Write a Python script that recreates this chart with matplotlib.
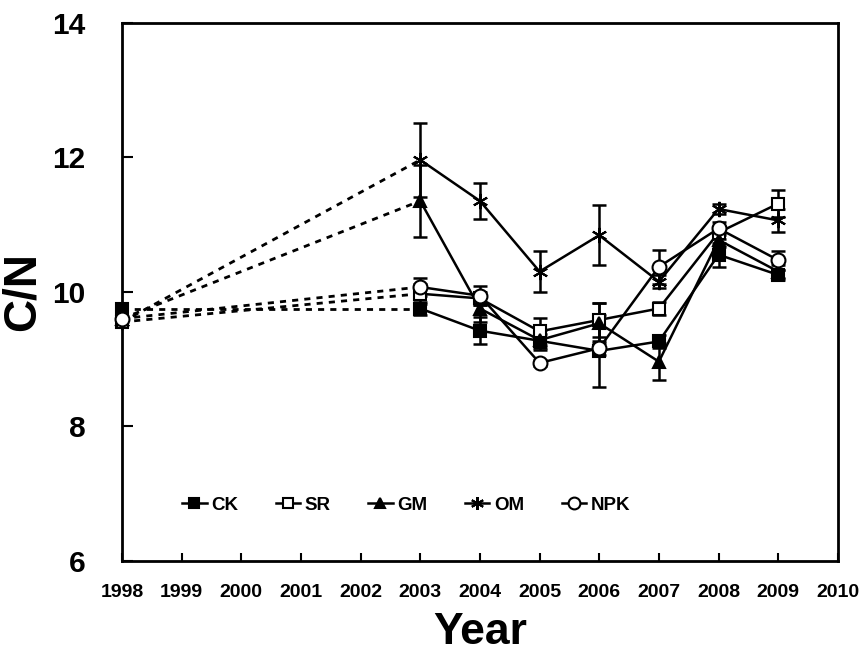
import numpy as np
import matplotlib.pyplot as plt

plt.rcParams['font.family'] = ['Liberation Sans', 'DejaVu Sans']
plt.rcParams['font.weight'] = 'bold'

years = [2003, 2004, 2005, 2006, 2007, 2008, 2009]
start_year = 1998

names = ['CK', 'SR', 'GM', 'OM', 'NPK']
start_vals = [9.75, 9.55, 9.6, 9.55, 9.6]

ck = [9.75, 9.42, 9.27, 9.12, 9.26, 10.55, 10.25]
sr = [9.97, 9.9, 9.41, 9.58, 9.75, 10.88, 11.31]
gm = [11.35, 9.75, 9.28, 9.53, 8.96, 10.77, 10.3]
om = [11.96, 11.35, 10.3, 10.84, 10.15, 11.23, 11.06]
npk = [10.07, 9.94, 8.94, 9.16, 10.37, 10.94, 10.47]

ck_err = [0.1, 0.2, 0.1, 0.53, 0.1, 0.18, 0.08]
sr_err = [0.15, 0.1, 0.2, 0.25, 0.1, 0.1, 0.2]
gm_err = [0.53, 0.2, 0.15, 0.3, 0.27, 0.1, 0.1]
om_err = [0.55, 0.27, 0.31, 0.45, 0.1, 0.07, 0.17]
npk_err = [0.13, 0.14, 0.05, 0.1, 0.25, 0.1, 0.14]

series = [ck, sr, gm, om, npk]
errors = [ck_err, sr_err, gm_err, om_err, npk_err]
markers = ['s', 's', '^', (6, 2, 0), 'o']
faces = ['black', 'white', 'black', 'black', 'white']
msizes = [8.5, 8.5, 9, 11, 10]

fig = plt.figure(figsize=(8.62, 6.55), dpi=100)
ax = fig.add_axes([0.1415, 0.144, 0.8305, 0.8213])

handles = []
for i in range(len(names)):
    # dotted link from the 1998 baseline to the first sampling year
    ax.plot([start_year, years[0]], [start_vals[i], series[i][0]],
            color='black', lw=2, dashes=(2.2, 2.2), zorder=2)
    ax.errorbar(years, series[i], yerr=errors[i], fmt='none', ecolor='black',
                elinewidth=1.8, capsize=5, capthick=1.8, zorder=3)
    h, = ax.plot(years, series[i], color='black', lw=1.8,
                 marker=markers[i], markersize=msizes[i], markerfacecolor=faces[i],
                 markeredgecolor='black', markeredgewidth=1.5, zorder=4 + i,
                 label=names[i])
    handles.append(h)
    ax.plot([start_year], [start_vals[i]], linestyle='none', marker=markers[i],
            markersize=msizes[i], markerfacecolor=faces[i], markeredgecolor='black',
            markeredgewidth=1.5, zorder=4 + i, clip_on=False)

ax.set_xlim(1998, 2010)
ax.set_ylim(6, 14)
ax.set_xticks(range(1998, 2011))
ax.set_yticks([6, 8, 10, 12, 14])
ax.tick_params(axis='x', direction='in', length=6, width=1.5, labelsize=14, pad=17)
ax.tick_params(axis='y', direction='in', length=8, width=1.5, labelsize=21.5, pad=26)
for lab in ax.get_xticklabels() + ax.get_yticklabels():
    lab.set_fontweight('bold')
for s in ax.spines.values():
    s.set_linewidth(2)

ax.set_xlabel('Year', fontsize=32, fontweight='bold', labelpad=8)
ax.set_ylabel('C/N', fontsize=33, fontweight='bold')
ax.yaxis.set_label_coords(-0.1075, 0.5)

ax.legend(handles=handles, loc='center', bbox_to_anchor=(0.397, 0.103), ncol=5,
          frameon=False, handlelength=1.3, columnspacing=2.0, handletextpad=0.25,
          markerscale=0.85, prop={'weight': 'bold', 'size': 13.5})

fig.savefig('out.png', dpi=100)
